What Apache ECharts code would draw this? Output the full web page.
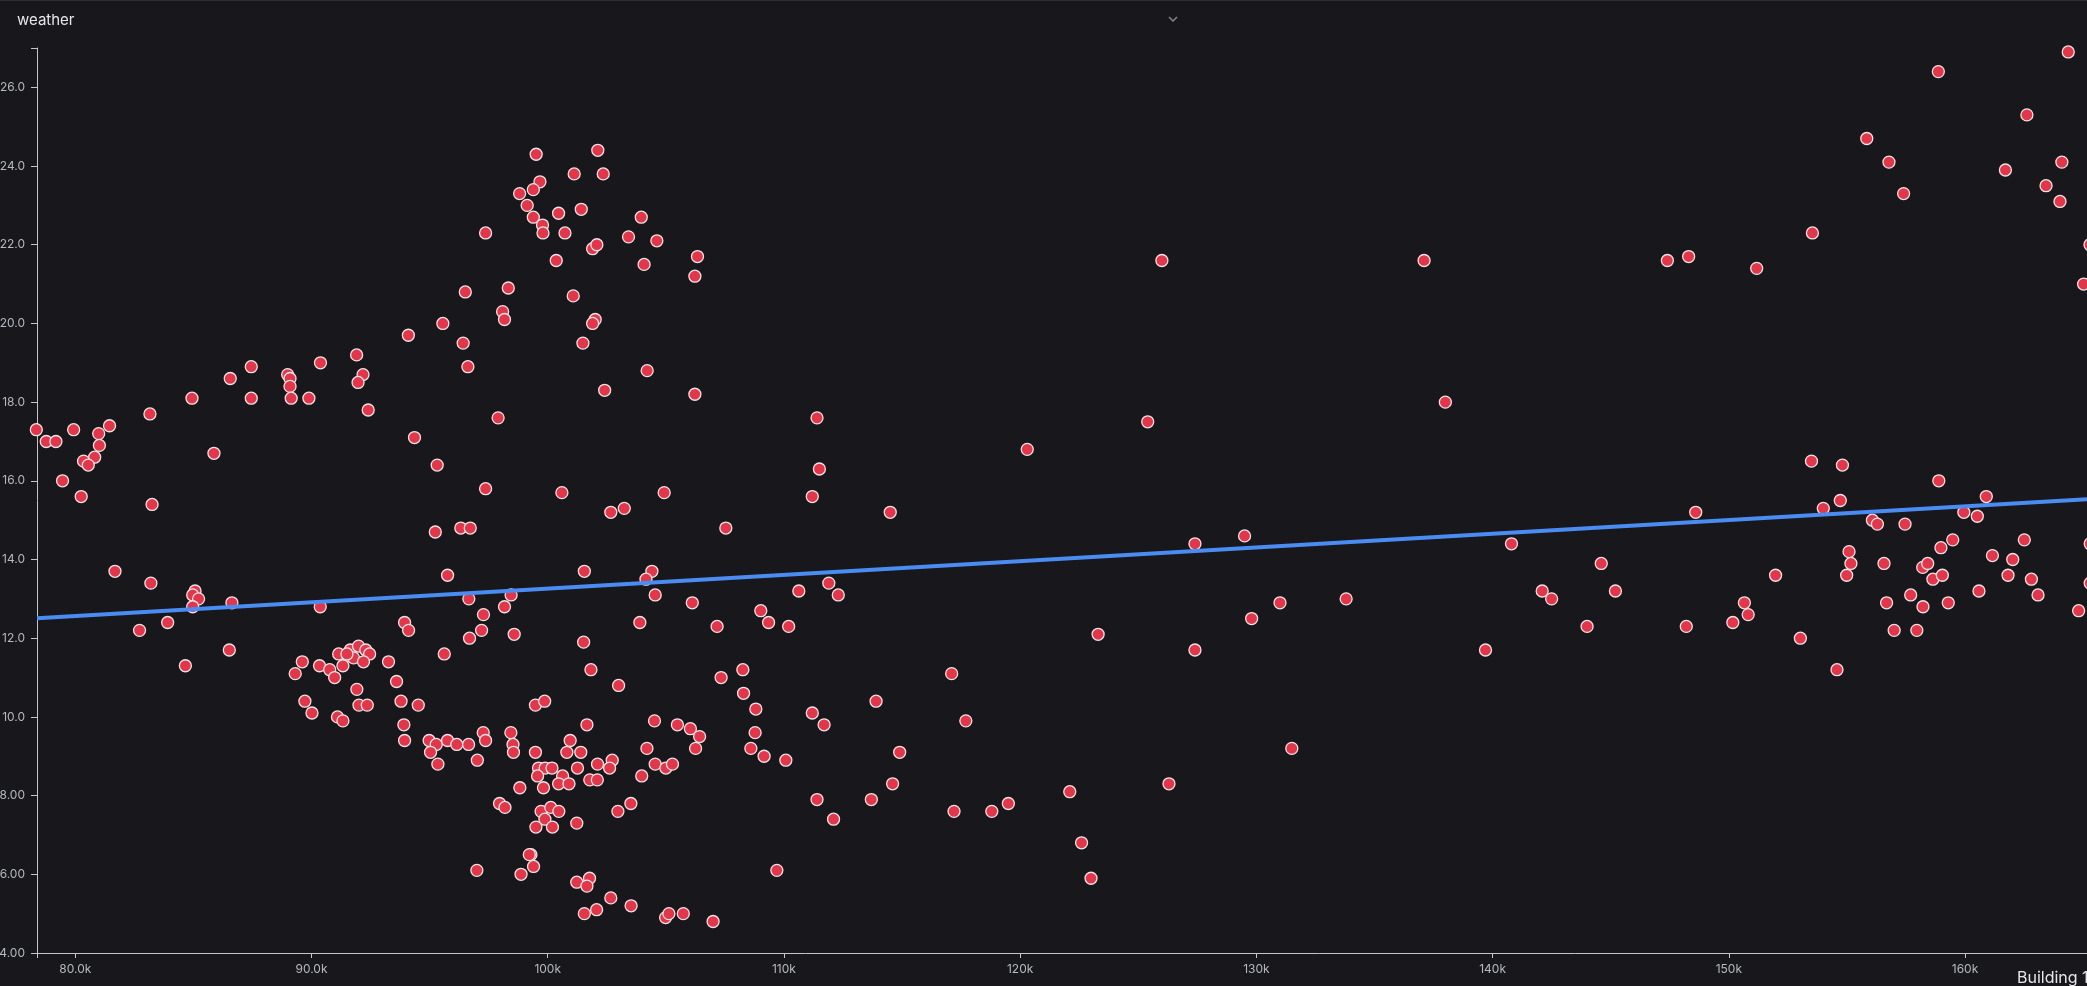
<!DOCTYPE html>
<html>
<head>
<meta charset="utf-8">
<title>weather</title>
<script src="https://cdn.jsdelivr.net/npm/echarts@6/dist/echarts.min.js"></script>
<style>
  html, body { margin: 0; padding: 0; background: #17171c; overflow: hidden; }
  #chart { width: 2087px; height: 986px; }
</style>
</head>
<body>
<div id="chart"></div>
<script>
// Building 1 load (x) and outdoor temperature (y), one entry per observation
const building1 = [
  78350, 78770, 79180, 79930, 80990, 81450, 81020, 80820, 80350, 80550, 79460, 80250,
  83160, 83250, 84940, 85870, 86560, 87450, 87450, 88990, 89090, 89090, 89140, 89890,
  90380, 91910, 92180, 91970, 92400, 94100, 94360,
  81680, 83200, 85070, 84970, 85220, 84970, 86630, 90370, 82720, 83910, 86520, 84660,
  93940, 94110, 89610, 89310, 90340, 90770, 90980, 91150, 91330, 91640, 91990, 91780,
  92300, 92460, 92200, 91500, 93260, 93600, 91920, 89720, 90020, 92010, 92360, 91100,
  91330, 93790, 94520, 93910,
  95240, 96320, 96720, 107540, 95760, 101550, 104410, 104160, 96660, 98450, 104550, 106120,
  109020, 109350, 97280, 98170, 97200, 96690, 98580, 103900, 107170, 101520, 95620, 101830,
  103000, 107340, 108260, 108290, 108810, 108780, 108600, 109160, 109700,
  93940, 94980, 95280, 95040, 95350, 95760, 96150, 96650, 97270, 97370, 97020, 98440,
  98530, 98550, 99480, 99480, 99870, 101660, 100950, 100810, 101400, 99610, 99890, 100180,
  99570, 100630, 100460, 100900, 99820, 98820, 101260, 101780, 102100, 102110, 102730, 102620,
  103980, 104200, 104520, 104550, 105000, 105280, 105490, 106040, 106430, 106260,
  97960, 98190, 99720, 100130, 100470, 99880, 99500, 100200, 101230, 102970, 103520,
  99290, 99220, 99400, 98870, 97000, 101230, 101770, 101660, 102670, 101550, 102070, 103530,
  104990, 105130, 105740, 107000,
  99510, 102120, 101120, 102350, 99670, 99390, 98810, 99130, 99390, 99780, 99800, 100460,
  101420, 100730, 97370, 101900, 102080, 103960, 103420, 104620, 100360, 104080, 106340, 106230,
  96510, 98330, 101080, 98090, 98170, 102010, 101900, 95560, 96420, 101490, 96620, 104210,
  102410, 106230, 97900, 95320, 97370, 100600, 104930, 102670, 103240,
  110200, 110630, 110080, 111400, 111200, 111500, 111200, 111700, 111400, 112100, 111900, 112300,
  113900, 113700, 114500, 114600, 114900, 117100, 117200, 117700, 118800, 119500, 120300, 122100,
  122600, 123000, 123300, 125400, 126000, 126300, 127400, 127400, 129500, 129800, 131000, 131500,
  133800, 137100, 138000, 139700, 140800, 142100, 142500, 144000, 144600, 145200, 147400, 148300,
  148200, 148600,
  150170, 150660, 150820, 151180, 151980, 153030, 153500, 153540, 154000, 154580, 154720, 154810,
  154990, 155090, 155170, 155840, 156080, 156290, 156570, 156680, 156780, 157000, 157400, 157460,
  157700, 157960, 158210, 158220, 158420, 158640, 158870, 158890, 158980, 159040, 159290, 159480,
  159950, 160520, 160590, 160900, 161160, 161710, 161820, 162020, 162510, 162620, 162810, 163090,
  163430, 164020, 164100, 164370, 164810, 165020, 165290, 165300, 165300
];

const weather = [
  17.3, 17.0, 17.0, 17.3, 17.2, 17.4, 16.9, 16.6, 16.5, 16.4, 16.0, 15.6,
  17.7, 15.4, 18.1, 16.7, 18.6, 18.9, 18.1, 18.7, 18.6, 18.4, 18.1, 18.1,
  19.0, 19.2, 18.7, 18.5, 17.8, 19.7, 17.1,
  13.7, 13.4, 13.2, 13.1, 13.0, 12.8, 12.9, 12.8, 12.2, 12.4, 11.7, 11.3,
  12.4, 12.2, 11.4, 11.1, 11.3, 11.2, 11.0, 11.6, 11.3, 11.7, 11.8, 11.5,
  11.7, 11.6, 11.4, 11.6, 11.4, 10.9, 10.7, 10.4, 10.1, 10.3, 10.3, 10.0,
  9.9, 10.4, 10.3, 9.8,
  14.7, 14.8, 14.8, 14.8, 13.6, 13.7, 13.7, 13.5, 13.0, 13.1, 13.1, 12.9,
  12.7, 12.4, 12.6, 12.8, 12.2, 12.0, 12.1, 12.4, 12.3, 11.9, 11.6, 11.2,
  10.8, 11.0, 11.2, 10.6, 10.2, 9.6, 9.2, 9.0, 6.1,
  9.4, 9.4, 9.3, 9.1, 8.8, 9.4, 9.3, 9.3, 9.6, 9.4, 8.9, 9.6,
  9.3, 9.1, 9.1, 10.3, 10.4, 9.8, 9.4, 9.1, 9.1, 8.7, 8.7, 8.7,
  8.5, 8.5, 8.3, 8.3, 8.2, 8.2, 8.7, 8.4, 8.4, 8.8, 8.9, 8.7,
  8.5, 9.2, 9.9, 8.8, 8.7, 8.8, 9.8, 9.7, 9.5, 9.2,
  7.8, 7.7, 7.6, 7.7, 7.6, 7.4, 7.2, 7.2, 7.3, 7.6, 7.8,
  6.5, 6.5, 6.2, 6.0, 6.1, 5.8, 5.9, 5.7, 5.4, 5.0, 5.1, 5.2,
  4.9, 5.0, 5.0, 4.8,
  24.3, 24.4, 23.8, 23.8, 23.6, 23.4, 23.3, 23.0, 22.7, 22.5, 22.3, 22.8,
  22.9, 22.3, 22.3, 21.9, 22.0, 22.7, 22.2, 22.1, 21.6, 21.5, 21.7, 21.2,
  20.8, 20.9, 20.7, 20.3, 20.1, 20.1, 20.0, 20.0, 19.5, 19.5, 18.9, 18.8,
  18.3, 18.2, 17.6, 16.4, 15.8, 15.7, 15.7, 15.2, 15.3,
  12.3, 13.2, 8.9, 17.6, 15.6, 16.3, 10.1, 9.8, 7.9, 7.4, 13.4, 13.1,
  10.4, 7.9, 15.2, 8.3, 9.1, 11.1, 7.6, 9.9, 7.6, 7.8, 16.8, 8.1,
  6.8, 5.9, 12.1, 17.5, 21.6, 8.3, 14.4, 11.7, 14.6, 12.5, 12.9, 9.2,
  13.0, 21.6, 18.0, 11.7, 14.4, 13.2, 13.0, 12.3, 13.9, 13.2, 21.6, 21.7,
  12.3, 15.2,
  12.4, 12.9, 12.6, 21.4, 13.6, 12.0, 16.5, 22.3, 15.3, 11.2, 15.5, 16.4,
  13.6, 14.2, 13.9, 24.7, 15.0, 14.9, 13.9, 12.9, 24.1, 12.2, 23.3, 14.9,
  13.1, 12.2, 13.8, 12.8, 13.9, 13.5, 26.4, 16.0, 14.3, 13.6, 12.9, 14.5,
  15.2, 15.1, 13.2, 15.6, 14.1, 23.9, 13.6, 14.0, 14.5, 25.3, 13.5, 13.1,
  23.5, 23.1, 24.1, 26.9, 12.7, 21.0, 22.0, 14.4, 13.4
];

// Least-squares trend line, read at both ends of the x range
const trendX = [78379, 165164];
const trendY = [12.51, 15.53];

// Axis ranges and tick labels
const xRange = [78379, 165164];
const yRange = [4, 27];
const xTickStep = 10000;
const yTickStep = 2;

const points = building1.map((x, i) => [x, weather[i]]);
const trend = trendX.map((x, i) => [x, trendY[i]]);

const FONT = 'Inter, "Liberation Sans", Arial, sans-serif';
const axisColor = '#c3c6cd';
const labelColor = '#b6b9c1';

const chart = echarts.init(document.getElementById('chart'), null, { renderer: 'canvas' });

chart.setOption({
  animation: false,
  backgroundColor: '#17171c',
  textStyle: { fontFamily: FONT },
  title: {
    text: 'weather',
    left: 12,
    top: 8,
    textStyle: { color: '#e7e7ea', fontSize: 15, fontWeight: 'normal', fontFamily: FONT }
  },
  graphic: [
    { type: 'rect', left: 0, top: 0, shape: { width: 2087, height: 1 }, style: { fill: '#2b2b31' }, silent: true },
    { type: 'polyline', shape: { points: [[1169, 17], [1173, 21], [1177, 17]] },
      style: { stroke: '#85858c', lineWidth: 1.5, fill: null }, silent: true }
  ],
  // the plot runs to the right edge; the axis name may spill past it
  grid: { left: 37, right: 0, top: 48, bottom: 33, outerBoundsMode: 'none', containLabel: false },
  xAxis: {
    type: 'value',
    min: xRange[0],
    max: xRange[1],
    splitNumber: 9,
    name: 'Building 1',
    nameLocation: 'end',
    nameGap: -70,
    nameTextStyle: {
      color: '#e7e7ea', fontSize: 16, fontFamily: FONT,
      align: 'left', verticalAlign: 'top', padding: [17, 0, 0, 0]
    },
    axisLine: { show: true, lineStyle: { color: axisColor, width: 1 } },
    axisTick: { show: true, length: 5, lineStyle: { color: axisColor } },
    splitLine: { show: false },
    axisLabel: {
      color: labelColor, fontSize: 12, margin: 10, fontFamily: FONT,
      formatter: v => (v % xTickStep === 0 ? (v / 1000).toPrecision(3) + 'k' : '')
    }
  },
  yAxis: {
    type: 'value',
    min: yRange[0],
    max: yRange[1],
    splitNumber: 11,
    axisLine: { show: true, lineStyle: { color: axisColor, width: 1 } },
    axisTick: { show: true, length: 6, lineStyle: { color: axisColor } },
    splitLine: { show: false },
    axisLabel: {
      color: labelColor, fontSize: 12, margin: 12, fontFamily: FONT,
      formatter: v => (v % yTickStep === 0 ? v.toPrecision(3) : '')
    }
  },
  series: [
    {
      type: 'scatter',
      data: points,
      symbol: 'circle',
      symbolSize: 12,
      clip: false,
      itemStyle: { color: '#e2374b', borderColor: '#f2e4e6', borderWidth: 1.3, opacity: 1 },
      z: 2
    },
    {
      type: 'line',
      data: trend,
      showSymbol: false,
      clip: false,
      lineStyle: { color: '#4a8cf2', width: 4 },
      z: 3
    }
  ]
});
</script>
</body>
</html>
